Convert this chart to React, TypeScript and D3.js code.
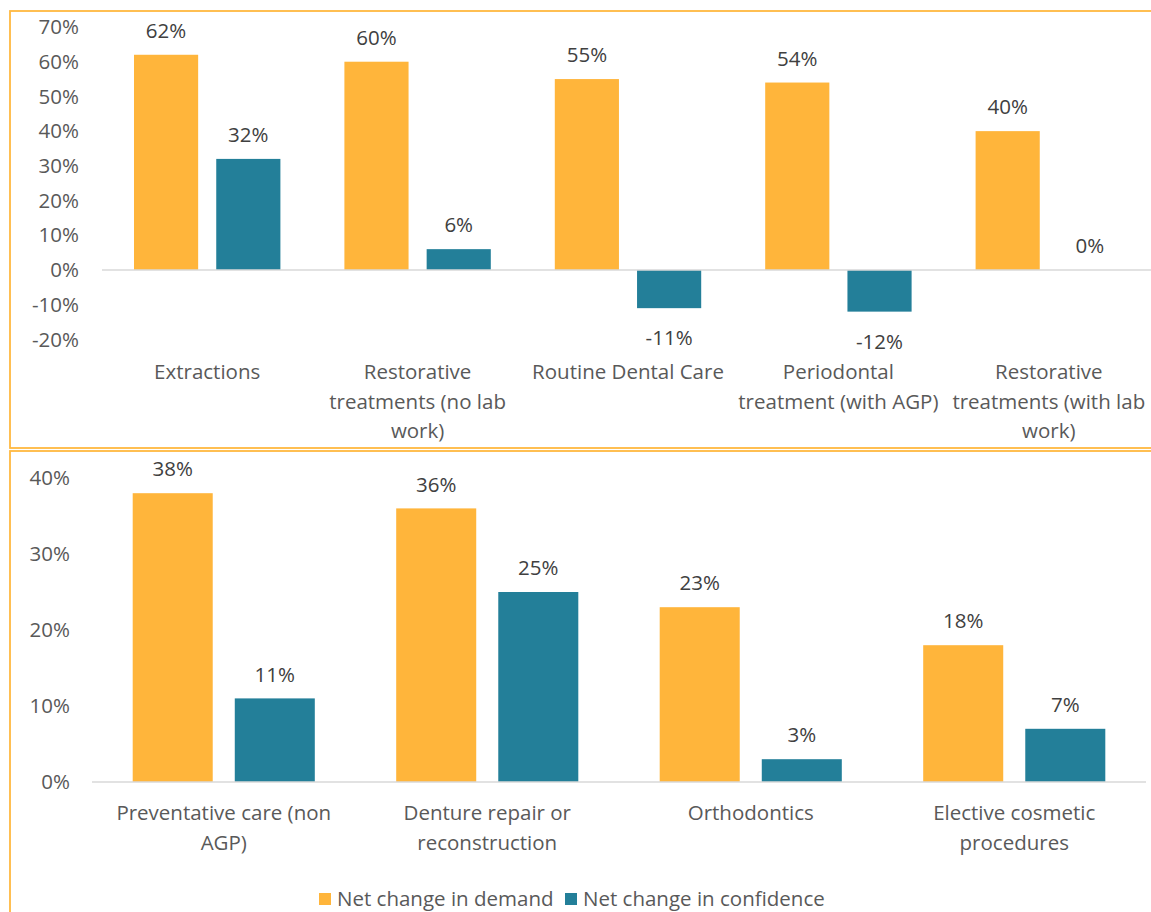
import React from "react";
import * as d3 from "d3";

const seriesNames = ["Net change in demand", "Net change in confidence"];
const seriesColors = ["#FFB53B", "#237F99"];

const topCategories = [
  ["Extractions"],
  ["Restorative", "treatments (no lab", "work)"],
  ["Routine Dental Care"],
  ["Periodontal", "treatment (with AGP)"],
  ["Restorative", "treatments (with lab", "work)"],
];
const topDemand = [62, 60, 55, 54, 40];
const topConfidence = [32, 6, -11, -12, 0];
const topTicks = [-20, -10, 0, 10, 20, 30, 40, 50, 60, 70];

const bottomCategories = [
  ["Preventative care (non", "AGP)"],
  ["Denture repair or", "reconstruction"],
  ["Orthodontics"],
  ["Elective cosmetic", "procedures"],
];
const bottomDemand = [38, 36, 23, 18];
const bottomConfidence = [11, 25, 3, 7];
const bottomTicks = [0, 10, 20, 30, 40];

const FONT = "'Open Sans', sans-serif";
const FS = 20.5;
const AXIS_COLOR = "#595959";
const LABEL_COLOR = "#404040";

type PanelProps = {
  cats: string[][];
  demand: number[];
  confidence: number[];
  ticks: number[];
  domain: [number, number];
  yRange: [number, number];
  xRange: [number, number];
  pad: [number, number];
  tickX: number;
  catY: number;
};

function Panel(p: PanelProps) {
  const keys = p.cats.map((_, i) => String(i));
  const x0 = d3.scaleBand<string>().domain(keys).range(p.xRange).padding(0);
  const x1 = d3
    .scaleBand<string>()
    .domain(["0", "1"])
    .range([p.pad[0], x0.bandwidth() - p.pad[0]])
    .paddingInner(p.pad[1])
    .paddingOuter(0);
  const y = d3.scaleLinear().domain(p.domain).range(p.yRange);
  const series = [p.demand, p.confidence];
  return (
    <g>
      {p.ticks.map((t) => (
        <text
          key={t}
          x={p.tickX}
          y={y(t)}
          dy="0.35em"
          textAnchor="end"
          fontSize={FS}
          fill={AXIS_COLOR}
          fontFamily={FONT}
        >
          {t}%
        </text>
      ))}
      {series.map((vals, s) =>
        vals.map((v, i) => {
          const bx = (x0(String(i)) ?? 0) + (x1(String(s)) ?? 0);
          const top = Math.min(y(v), y(0));
          const h = Math.abs(y(v) - y(0));
          const ly = v >= 0 ? y(v) - 24 : y(v) + 30;
          return (
            <g key={`${s}-${i}`}>
              {h > 0 && (
                <rect x={bx} y={top} width={x1.bandwidth()} height={h} fill={seriesColors[s]} />
              )}
              <text
                x={bx + x1.bandwidth() / 2}
                y={ly}
                dy="0.35em"
                textAnchor="middle"
                fontSize={FS}
                fill={LABEL_COLOR}
                fontFamily={FONT}
              >
                {v}%
              </text>
            </g>
          );
        })
      )}
      <line
        x1={p.xRange[0]}
        x2={p.xRange[1]}
        y1={y(0)}
        y2={y(0)}
        stroke="#D9D9D9"
        strokeWidth={1.5}
      />
      {p.cats.map((lines, i) => (
        <text
          key={i}
          x={(x0(String(i)) ?? 0) + x0.bandwidth() / 2}
          y={p.catY}
          textAnchor="middle"
          fontSize={FS}
          fill={AXIS_COLOR}
          fontFamily={FONT}
        >
          {lines.map((l, j) => (
            <tspan key={j} x={(x0(String(i)) ?? 0) + x0.bandwidth() / 2} dy={j === 0 ? "0.35em" : 29.5}>
              {l}
            </tspan>
          ))}
        </text>
      ))}
    </g>
  );
}

export default function App() {
  return (
    <svg
      width={1151}
      height={912}
      style={{ position: "absolute", left: 0, top: 0, background: "#fff" }}
    >
      <rect x={0} y={0} width={1151} height={912} fill="#fff" />
      <rect x={10} y={11} width={1160} height={437} fill="none" stroke="#FFB940" strokeWidth={1.8} />
      <rect x={10} y={451} width={1160} height={480} fill="none" stroke="#FFB940" strokeWidth={1.8} />
      <Panel
        cats={topCategories}
        demand={topDemand}
        confidence={topConfidence}
        ticks={topTicks}
        domain={[-20, 70]}
        yRange={[339.4, 27]}
        xRange={[102, 1154]}
        pad={[32, 0.22]}
        tickX={79}
        catY={372}
      />
      <Panel
        cats={bottomCategories}
        demand={bottomDemand}
        confidence={bottomConfidence}
        ticks={bottomTicks}
        domain={[0, 40]}
        yRange={[782, 478]}
        xRange={[92, 1146]}
        pad={[40.7, 0.216]}
        tickX={70}
        catY={813}
      />
      {seriesNames.map((n, i) => {
        const lx = [319, 565][i];
        return (
          <g key={n}>
            <rect x={lx} y={893} width={12} height={12} fill={seriesColors[i]} />
            <text x={lx + 18} y={899} dy="0.35em" fontSize={FS} fill={AXIS_COLOR} fontFamily={FONT}>
              {n}
            </text>
          </g>
        );
      })}
    </svg>
  );
}
